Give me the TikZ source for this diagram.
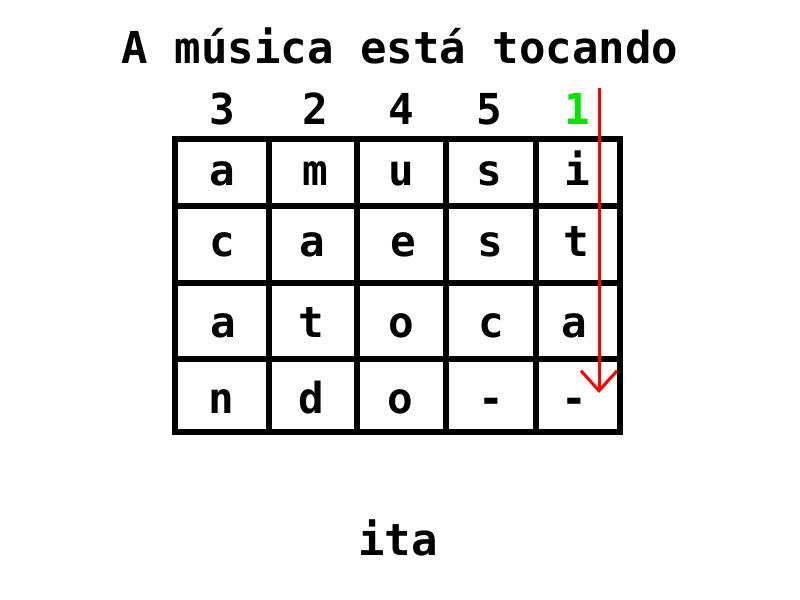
\documentclass[tikz,border=0pt]{standalone}
\usepackage{fontspec}
\setmonofont{DejaVu Sans Mono}
\usepackage{tikz}
\usetikzlibrary{
	arrows.meta,
	positioning
}
\tikzset{every path/.append style={line width=0.5pt}}
\tikzset{
	word/.style={font=\ttfamily\bfseries\fontsize{32}{36}\selectfont,anchor=base,inner sep=0pt},
	bigword/.style={word,font=\ttfamily\bfseries\fontsize{33}{38}\selectfont},
	gridline/.style={line width=4pt,line cap=rect},
	readpath/.style={red,line width=2.25pt,-{Straight Barb[length=15pt,width=27pt,line width=2.25pt]}}
}
\newcommand{\tikzCell}[3]{\node (#3) at #2 [word]{#1};}

\begin{document}
\begin{tikzpicture}[x=0.75pt,y=-0.75pt]
	\useasboundingbox (0,0) rectangle (800,600);

	\node (title) at (400,63) [bigword]{A música está tocando};

	\node (k3) at (222,124) [word]{3};
	\node (k2) at (315,124) [word]{2};
	\node (k4) at (401,124) [word]{4};
	\node (k5) at (489,124) [word]{5};
	\node (k1) at (577,124) [word,text={rgb,255:red,0;green,230;blue,0}]{1};

	\draw[gridline] (175,139) rectangle (620,432);
	\foreach \x in {269,357,446,536}
		\draw[gridline] (\x,139) -- (\x,432);
	\foreach \y in {206,283,359}
		\draw[gridline] (175,\y) -- (620,\y);

	\tikzCell{a}{(222,185)}{a1}
	\tikzCell{m}{(315,185)}{m1}
	\tikzCell{u}{(401,185)}{u1}
	\tikzCell{s}{(489,185)}{s1}
	\tikzCell{i}{(577,185)}{i1}

	\tikzCell{c}{(222,256)}{c2}
	\tikzCell{a}{(312,256)}{a2}
	\tikzCell{e}{(403,256)}{e2}
	\tikzCell{s}{(490,256)}{s2}
	\tikzCell{t}{(576,256)}{t2}

	\tikzCell{a}{(223,337)}{a3}
	\tikzCell{t}{(311,337)}{t3}
	\tikzCell{o}{(401,337)}{o3}
	\tikzCell{c}{(491,337)}{c3}
	\tikzCell{a}{(574,337)}{a3b}

	\tikzCell{n}{(221,413)}{n4}
	\tikzCell{d}{(311,413)}{d4}
	\tikzCell{o}{(400,413)}{o4}
	\tikzCell{-}{(491,413)}{h4}
	\tikzCell{-}{(574,413)}{h4b}

	\coordinate (top) at (599,88);
	\coordinate (bottom) at (599,393);
	\draw[readpath] (top) -- (bottom);

	\node (result) at (398,555) [bigword]{ita};
\end{tikzpicture}
\end{document}
